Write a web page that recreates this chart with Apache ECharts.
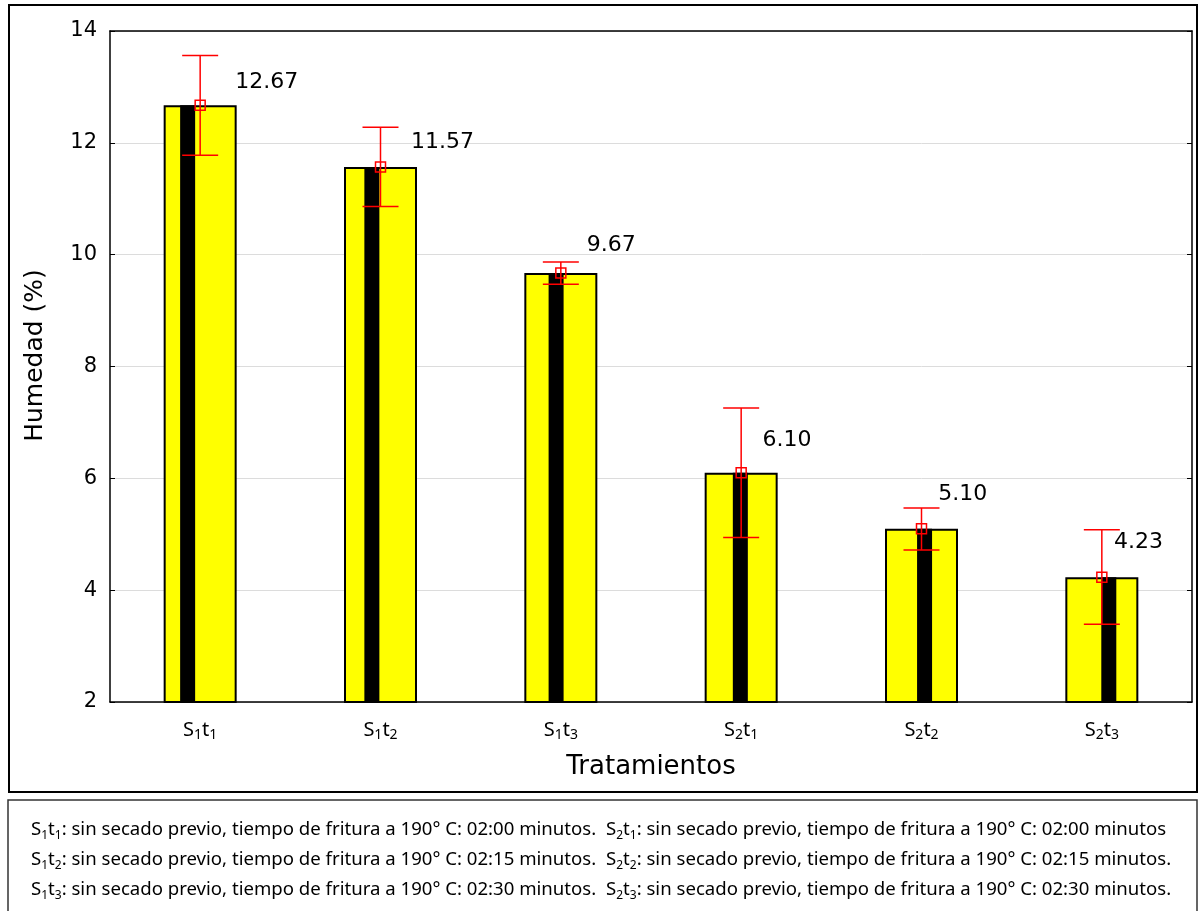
<!DOCTYPE html>
<html>
<head>
<meta charset="utf-8">
<script src="https://cdn.jsdelivr.net/npm/echarts@6/dist/echarts.min.js"></script>
<style>
  html, body { margin: 0; padding: 0; background: #fff; }
  #chart { width: 1201px; height: 911px; }
</style>
</head>
<body>
<div id="chart"></div>
<script>
// treatments and mean moisture (%)
const categories = ['S1t1', 'S1t2', 'S1t3', 'S2t1', 'S2t2', 'S2t3'];
const humedad = [12.67, 11.57, 9.67, 6.10, 5.10, 4.23];
const errLow = [11.78, 10.86, 9.47, 4.94, 4.72, 3.39];
const errHigh = [13.56, 12.28, 9.87, 7.26, 5.47, 5.08];
const yTicks = [2, 4, 6, 8, 10, 12, 14];

const notesLeft = [
  'S1t1: sin secado previo, tiempo de fritura a 190° C: 02:00 minutos.',
  'S1t2: sin secado previo, tiempo de fritura a 190° C: 02:15 minutos.',
  'S1t3: sin secado previo, tiempo de fritura a 190° C: 02:30 minutos.',
];
const notesRight = [
  'S2t1: sin secado previo, tiempo de fritura a 190° C: 02:00 minutos',
  'S2t2: sin secado previo, tiempo de fritura a 190° C: 02:15 minutos.',
  'S2t3: sin secado previo, tiempo de fritura a 190° C: 02:30 minutos.',
];

// "S1t1" -> rich text with subscripts
function subLabel(s) {
  return s.replace(/^S(\d)t(\d)/, '{m|S}{s|$1}{m|t}{s|$2}');
}
function noteRich(s) {
  const m = s.match(/^S(\d)t(\d)(.*)$/);
  return '{m|S}{s|' + m[1] + '}{m|t}{s|' + m[2] + '}{m|' + m[3] + '}';
}

const NUM_FONT = '"DejaVu Sans", sans-serif';
const TXT_FONT = '"Noto Sans", "Open Sans", sans-serif';

const chart = echarts.init(document.getElementById('chart'));

const noteGraphics = [];
[notesLeft, notesRight].forEach((col, c) => {
  col.forEach((t, i) => {
    noteGraphics.push({
      type: 'text',
      left: c === 0 ? 31 : 606,
      top: 829 + i * 30 - 9,
      style: {
        text: noteRich(t),
        rich: {
          m: { fontFamily: TXT_FONT, fontSize: 18.6, lineHeight: 24, fill: '#000' },
          s: { fontFamily: TXT_FONT, fontSize: 12, lineHeight: 13, verticalAlign: 'bottom', fill: '#000' },
        },
      },
    });
  });
});

chart.setOption({
  animation: false,
  backgroundColor: '#fff',
  grid: { left: 110, top: 31, width: 1082, height: 671, containLabel: false },
  xAxis: [
    {
      type: 'category',
      data: categories,
      position: 'bottom',
      name: 'Tratamientos',
      nameLocation: 'middle',
      nameGap: 52,
      nameTextStyle: { fontFamily: NUM_FONT, fontSize: 26, color: '#000' },
      axisLine: { lineStyle: { color: '#000', width: 1.5 } },
      axisTick: { inside: true, alignWithLabel: true, length: 5, lineStyle: { color: '#000' } },
      axisLabel: {
        margin: 16,
        formatter: (v) => subLabel(v),
        rich: {
          m: { fontFamily: TXT_FONT, fontSize: 20, lineHeight: 24, color: '#000' },
          s: { fontFamily: TXT_FONT, fontSize: 14, lineHeight: 12, verticalAlign: 'bottom', color: '#000' },
        },
      },
    },
    {
      type: 'category',
      data: categories,
      position: 'top',
      axisLine: { lineStyle: { color: '#000', width: 1.5 } },
      axisTick: { inside: true, alignWithLabel: true, length: 5, lineStyle: { color: '#000' } },
      axisLabel: { show: false },
    },
    // hidden scale for the black inner stripe
    { type: 'value', show: false, min: 0.5786, max: 6.4516 },
    // hidden scale for the value labels
    { type: 'value', show: false, min: 0.2873, max: 6.4443 },
  ],
  yAxis: [
    {
      type: 'value',
      min: yTicks[0],
      max: yTicks[yTicks.length - 1],
      interval: 2,
      name: 'Humedad (%)',
      nameLocation: 'middle',
      nameGap: 62,
      nameTextStyle: { fontFamily: NUM_FONT, fontSize: 25, color: '#000', padding: [0, 0, 0, 22] },
      axisLine: { show: true, lineStyle: { color: '#000', width: 1.5 } },
      axisTick: { show: true, inside: true, length: 5, lineStyle: { color: '#000' } },
      axisLabel: { margin: 13, fontFamily: NUM_FONT, fontSize: 21, color: '#000' },
      splitLine: { lineStyle: { color: '#dcdcdc', width: 1 } },
    },
    {
      type: 'value',
      min: 2,
      max: 14,
      interval: 2,
      position: 'right',
      axisLine: { show: true, lineStyle: { color: '#000', width: 1.5 } },
      axisTick: { show: true, inside: true, length: 5, lineStyle: { color: '#000' } },
      axisLabel: { show: false },
      splitLine: { show: false },
    },
    { type: 'value', show: false, min: 1.294, max: 13.606 },
  ],
  series: [
    {
      type: 'bar',
      xAxisIndex: 0,
      yAxisIndex: 0,
      data: humedad,
      barWidth: 73,
      itemStyle: { color: '#ffff00', borderColor: '#000', borderWidth: 2 },
      z: 2,
    },
    {
      type: 'bar',
      xAxisIndex: 2,
      yAxisIndex: 0,
      data: humedad.map((v, i) => [i + 1, v]),
      barWidth: 15,
      itemStyle: { color: '#000' },
      z: 3,
    },
    {
      type: 'custom',
      xAxisIndex: 0,
      yAxisIndex: 0,
      data: humedad.map((v, i) => [i, v, errLow[i], errHigh[i]]),
      z: 5,
      renderItem(params, api) {
        const mid = api.coord([api.value(0), api.value(1)]);
        const lo = api.coord([api.value(0), api.value(2)]);
        const hi = api.coord([api.value(0), api.value(3)]);
        const cap = 18;
        const st = { stroke: '#ff0000', lineWidth: 1.5, fill: null };
        return {
          type: 'group',
          children: [
            { type: 'line', shape: { x1: hi[0], y1: hi[1], x2: lo[0], y2: lo[1] }, style: st },
            { type: 'line', shape: { x1: hi[0] - cap, y1: hi[1], x2: hi[0] + cap, y2: hi[1] }, style: st },
            { type: 'line', shape: { x1: lo[0] - cap, y1: lo[1], x2: lo[0] + cap, y2: lo[1] }, style: st },
            { type: 'rect', shape: { x: mid[0] - 5, y: mid[1] - 5, width: 10, height: 10 }, style: st },
          ],
        };
      },
    },
    {
      type: 'scatter',
      xAxisIndex: 3,
      yAxisIndex: 2,
      data: humedad.map((v, i) => [i + 1, v]),
      symbolSize: 1,
      itemStyle: { color: 'rgba(255,255,255,0)' },
      z: 6,
      label: {
        show: true,
        position: 'inside',
        align: 'left',
        verticalAlign: 'middle',
        fontFamily: NUM_FONT,
        fontSize: 22,
        color: '#000',
        opacity: 1,
        textBorderWidth: 0,
        formatter: (p) => p.value[1].toFixed(2),
      },
    },
  ],
  graphic: [
    {
      type: 'rect',
      shape: { x: 9, y: 5, width: 1188, height: 787 },
      style: { fill: null, stroke: '#000', lineWidth: 2 },
      silent: true,
    },
    {
      type: 'rect',
      shape: { x: 8, y: 800, width: 1189, height: 140 },
      style: { fill: null, stroke: '#333', lineWidth: 1.5 },
      silent: true,
    },
    ...noteGraphics,
  ],
});
</script>
</body>
</html>
